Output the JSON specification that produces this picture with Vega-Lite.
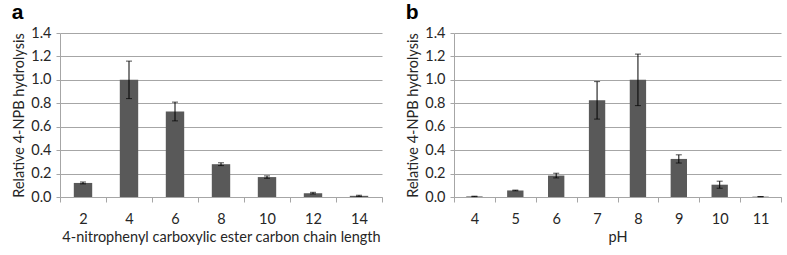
{
  "$schema": "https://vega.github.io/schema/vega-lite/v6.json",
  "padding": {"left": 11, "top": 2, "right": 7, "bottom": 2},
  "spacing": 22,
  "config": {
    "view": {"stroke": null},
    "font": "Lato",
    "axis": {
      "labelFont": "Lato",
      "titleFont": "Lato",
      "labelFontSize": 14.5,
      "titleFontSize": 14.5,
      "titleFontWeight": "normal",
      "labelColor": "#262626",
      "titleColor": "#262626",
      "domainColor": "#a6a6a6",
      "tickColor": "#a6a6a6",
      "gridColor": "#a6a6a6"
    },
    "title": {"fontSize": 21, "fontWeight": "bold", "font": "Liberation Sans", "anchor": "start", "frame": "bounds", "color": "#000000", "offset": 2}
  },
  "datasets": {
    "a": [
      {"chain": 2, "value": 0.12, "err": 0.008},
      {"chain": 4, "value": 1.0, "err": 0.16},
      {"chain": 6, "value": 0.73, "err": 0.08},
      {"chain": 8, "value": 0.28, "err": 0.012},
      {"chain": 10, "value": 0.17, "err": 0.01},
      {"chain": 12, "value": 0.033, "err": 0.007},
      {"chain": 14, "value": 0.01, "err": 0.005}
    ],
    "b": [
      {"pH": 4, "value": 0.005, "err": 0.002},
      {"pH": 5, "value": 0.056, "err": 0.003},
      {"pH": 6, "value": 0.183, "err": 0.02},
      {"pH": 7, "value": 0.825, "err": 0.16},
      {"pH": 8, "value": 1.0, "err": 0.22},
      {"pH": 9, "value": 0.325, "err": 0.035},
      {"pH": 10, "value": 0.105, "err": 0.03},
      {"pH": 11, "value": 0.003, "err": 0.001}
    ]
  },
  "hconcat": [
    {
      "title": "a",
      "width": 322,
      "height": 164,
      "data": {"name": "a"},
      "encoding": {
        "x": {
          "field": "chain",
          "type": "ordinal",
          "scale": {"paddingInner": 0, "paddingOuter": 0},
          "axis": {"title": "4-nitrophenyl carboxylic ester carbon chain length", "labelAngle": 0, "tickBand": "extent", "tickSize": 5, "labelPadding": 10, "titlePadding": 5}
        },
        "y": {
          "field": "value",
          "type": "quantitative",
          "scale": {"domain": [0, 1.4]},
          "axis": {"title": "Relative 4-NPB hydrolysis", "values": [0, 0.2, 0.4, 0.6, 0.8, 1.0, 1.2, 1.4], "format": ".1f", "tickSize": 4, "labelPadding": 5, "titlePadding": 4}
        }
      },
      "layer": [
        {"mark": {"type": "bar", "color": "#595959", "width": {"band": 0.4}}},
        {"mark": {"type": "errorbar", "color": "#000000", "ticks": {"size": 6, "color": "#000000"}, "thickness": 1}, "encoding": {"yError": {"field": "err"}}}
      ]
    },
    {
      "title": "b",
      "width": 327,
      "height": 164,
      "data": {"name": "b"},
      "encoding": {
        "x": {
          "field": "pH",
          "type": "ordinal",
          "scale": {"paddingInner": 0, "paddingOuter": 0},
          "axis": {"title": "pH", "labelAngle": 0, "tickBand": "extent", "tickSize": 5, "labelPadding": 10, "titlePadding": 5}
        },
        "y": {
          "field": "value",
          "type": "quantitative",
          "scale": {"domain": [0, 1.4]},
          "axis": {"title": "Relative  4-NPB hydrolysis", "values": [0, 0.2, 0.4, 0.6, 0.8, 1.0, 1.2, 1.4], "format": ".1f", "tickSize": 4, "labelPadding": 5, "titlePadding": 4}
        }
      },
      "layer": [
        {"mark": {"type": "bar", "color": "#595959", "width": {"band": 0.4}}},
        {"mark": {"type": "errorbar", "color": "#000000", "ticks": {"size": 6, "color": "#000000"}, "thickness": 1}, "encoding": {"yError": {"field": "err"}}}
      ]
    }
  ]
}
